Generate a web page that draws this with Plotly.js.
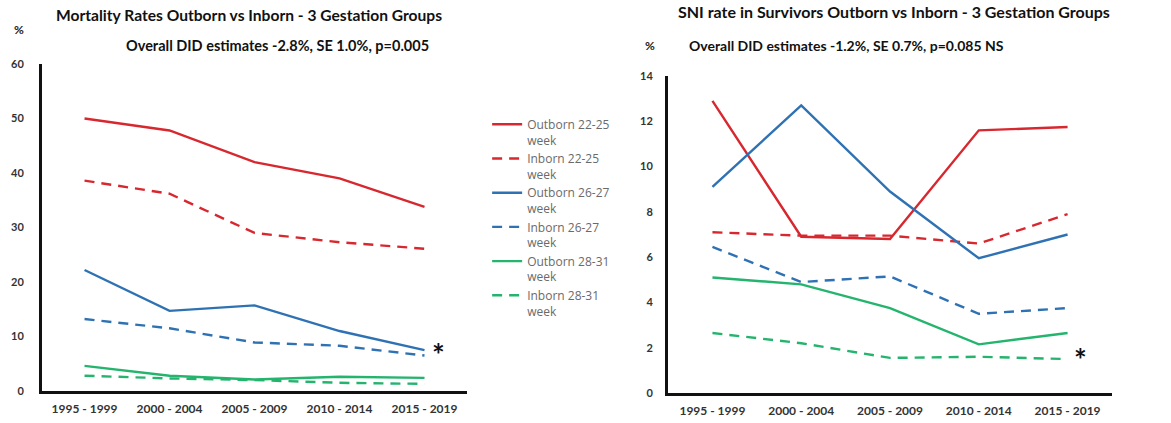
<!DOCTYPE html>
<html>
<head>
<meta charset="utf-8">
<script src="https://cdn.plot.ly/plotly-3.0.1.min.js"></script>
<style>
  html, body { margin: 0; padding: 0; background: #fff; }
  #chart { width: 1171px; height: 423px; }
</style>
</head>
<body>
<div id="chart"></div>
<script>
// Five-year birth-cohort periods
const periods = ['1995 - 1999', '2000 - 2004', '2005 - 2009', '2010 - 2014', '2015 - 2019'];

// Series names (legend)
const seriesNames = [
  'Outborn 22-25<br>week', 'Inborn 22-25<br>week',
  'Outborn 26-27<br>week', 'Inborn 26-27<br>week',
  'Outborn 28-31<br>week', 'Inborn 28-31<br>week'
];

// Mortality rates (%)
const mortOut2225 = [50.0, 47.8, 42.0, 39.0, 33.8];
const mortIn2225  = [38.6, 36.2, 29.0, 27.3, 26.1];
const mortOut2627 = [22.2, 14.7, 15.7, 11.0, 7.5];
const mortIn2627  = [13.2, 11.5, 8.9, 8.3, 6.5];
const mortOut2831 = [4.6, 2.8, 2.1, 2.6, 2.4];
const mortIn2831  = [2.8, 2.3, 2.0, 1.5, 1.3];

// SNI rate in survivors (%)
const sniOut2225 = [12.9, 6.9, 6.8, 11.6, 11.75];
const sniIn2225  = [7.1, 6.95, 6.95, 6.6, 7.9];
const sniOut2627 = [9.1, 12.7, 8.9, 5.95, 7.0];
const sniIn2627  = [6.45, 4.9, 5.15, 3.5, 3.75];
const sniOut2831 = [5.1, 4.8, 3.75, 2.15, 2.65];
const sniIn2831  = [2.65, 2.2, 1.55, 1.6, 1.5];

// Axis ticks
const mortTicks = [0, 10, 20, 30, 40, 50, 60];
const sniTicks  = [0, 2, 4, 6, 8, 10, 12, 14];

const RED = '#d8282f', BLUE = '#2f72b3', GREEN = '#25b46e';
const styles = [
  { color: RED,   dash: 'solid' },
  { color: RED,   dash: '10px,7px' },
  { color: BLUE,  dash: 'solid' },
  { color: BLUE,  dash: '10px,7px' },
  { color: GREEN, dash: 'solid' },
  { color: GREEN, dash: '10px,7px' }
];

const mortSeries = [mortOut2225, mortIn2225, mortOut2627, mortIn2627, mortOut2831, mortIn2831];
const sniSeries  = [sniOut2225, sniIn2225, sniOut2627, sniIn2627, sniOut2831, sniIn2831];

const traces = [];
mortSeries.forEach((vals, i) => {
  traces.push({
    type: 'scatter', mode: 'lines', x: periods, y: vals,
    name: seriesNames[i], legendgroup: 'g' + i, showlegend: true,
    line: { color: styles[i].color, dash: styles[i].dash, width: 2.4 },
    xaxis: 'x', yaxis: 'y', hoverinfo: 'skip'
  });
});
sniSeries.forEach((vals, i) => {
  traces.push({
    type: 'scatter', mode: 'lines', x: periods, y: vals,
    name: seriesNames[i], legendgroup: 'g' + i, showlegend: false,
    line: { color: styles[i].color, dash: styles[i].dash, width: 2.4 },
    xaxis: 'x2', yaxis: 'y2', hoverinfo: 'skip'
  });
});

const FONT = 'Lato, "Open Sans", sans-serif';
const yTickFont = { family: FONT, size: 11, color: '#333', weight: 'bold' };
const xTickFont = { family: FONT, size: 12, color: '#333', weight: 'bold' };

const xCommon = {
  type: 'category', range: [-0.5, 4.5], showgrid: false, zeroline: false,
  showline: true, linecolor: '#111', linewidth: 3, ticks: '',
  tickfont: xTickFont, ticklabelstandoff: 5, fixedrange: true
};
const yCommon = {
  showgrid: false, zeroline: false, showline: true, linecolor: '#111',
  linewidth: 3, ticks: '', tickfont: yTickFont, fixedrange: true
};

const layout = {
  width: 1171, height: 423,
  margin: { l: 0, r: 0, t: 0, b: 0 },
  paper_bgcolor: '#fff', plot_bgcolor: '#fff',
  font: { family: FONT, color: '#222' },
  showlegend: true,
  legend: {
    x: 0.416, xanchor: 'left', y: 0.74, yanchor: 'top',
    font: { family: '"Open Sans", sans-serif', size: 12, color: '#6a6a6a' },
    valign: 'top', tracegroupgap: 0, itemwidth: 30,
    bgcolor: 'rgba(0,0,0,0)'
  },
  xaxis:  Object.assign({}, xCommon, { domain: [0.0359, 0.3988], anchor: 'y' }),
  yaxis:  Object.assign({}, yCommon, { domain: [0.0757, 0.8487], range: [0, 60],
                                       tickvals: mortTicks, anchor: 'x',
                                       ticklabelstandoff: 13 }),
  xaxis2: Object.assign({}, xCommon, { domain: [0.5705, 0.9496], anchor: 'y2' }),
  yaxis2: Object.assign({}, yCommon, { domain: [0.0709, 0.8203], range: [0, 14],
                                       tickvals: sniTicks, anchor: 'x2',
                                       ticklabelstandoff: 10 }),
  annotations: [
    { text: 'Mortality Rates Outborn vs Inborn - 3 Gestation Groups',
      xref: 'paper', yref: 'paper', x: 249 / 1171, y: 1 - 15 / 423,
      xanchor: 'center', yanchor: 'middle', showarrow: false,
      font: { family: FONT, size: 15.6, color: '#111', weight: 'bold' } },
    { text: 'Overall DID estimates -2.8%, SE 1.0%, p=0.005',
      xref: 'paper', yref: 'paper', x: 277 / 1171, y: 1 - 45 / 423,
      xanchor: 'center', yanchor: 'middle', showarrow: false,
      font: { family: FONT, size: 14.5, color: '#111', weight: 'bold' } },
    { text: '%', xref: 'paper', yref: 'paper', x: 19 / 1171, y: 1 - 30 / 423,
      xanchor: 'center', yanchor: 'middle', showarrow: false,
      font: { family: FONT, size: 12, color: '#222', weight: 'bold' } },
    { text: '*', xref: 'x', yref: 'y', x: 4, y: 7.5, xshift: 6, yshift: -4,
      xanchor: 'left', yanchor: 'middle', showarrow: false,
      font: { family: FONT, size: 30, color: '#111', weight: 'bold' } },

    { text: 'SNI rate in Survivors Outborn vs Inborn - 3 Gestation Groups',
      xref: 'paper', yref: 'paper', x: 894 / 1171, y: 1 - 11 / 423,
      xanchor: 'center', yanchor: 'middle', showarrow: false,
      font: { family: FONT, size: 16, color: '#111', weight: 'bold' } },
    { text: 'Overall DID estimates -1.2%, SE 0.7%, p=0.085 NS',
      xref: 'paper', yref: 'paper', x: 846 / 1171, y: 1 - 45 / 423,
      xanchor: 'center', yanchor: 'middle', showarrow: false,
      font: { family: FONT, size: 14, color: '#111', weight: 'bold' } },
    { text: '%', xref: 'paper', yref: 'paper', x: 650 / 1171, y: 1 - 45 / 423,
      xanchor: 'center', yanchor: 'middle', showarrow: false,
      font: { family: FONT, size: 12, color: '#222', weight: 'bold' } },
    { text: '*', xref: 'x2', yref: 'y2', x: 4, y: 1.5, xshift: 4, yshift: 0,
      xanchor: 'left', yanchor: 'middle', showarrow: false,
      font: { family: FONT, size: 30, color: '#111', weight: 'bold' } }
  ]
};

Plotly.newPlot('chart', traces, layout, { displayModeBar: false, staticPlot: true });
</script>
</body>
</html>
